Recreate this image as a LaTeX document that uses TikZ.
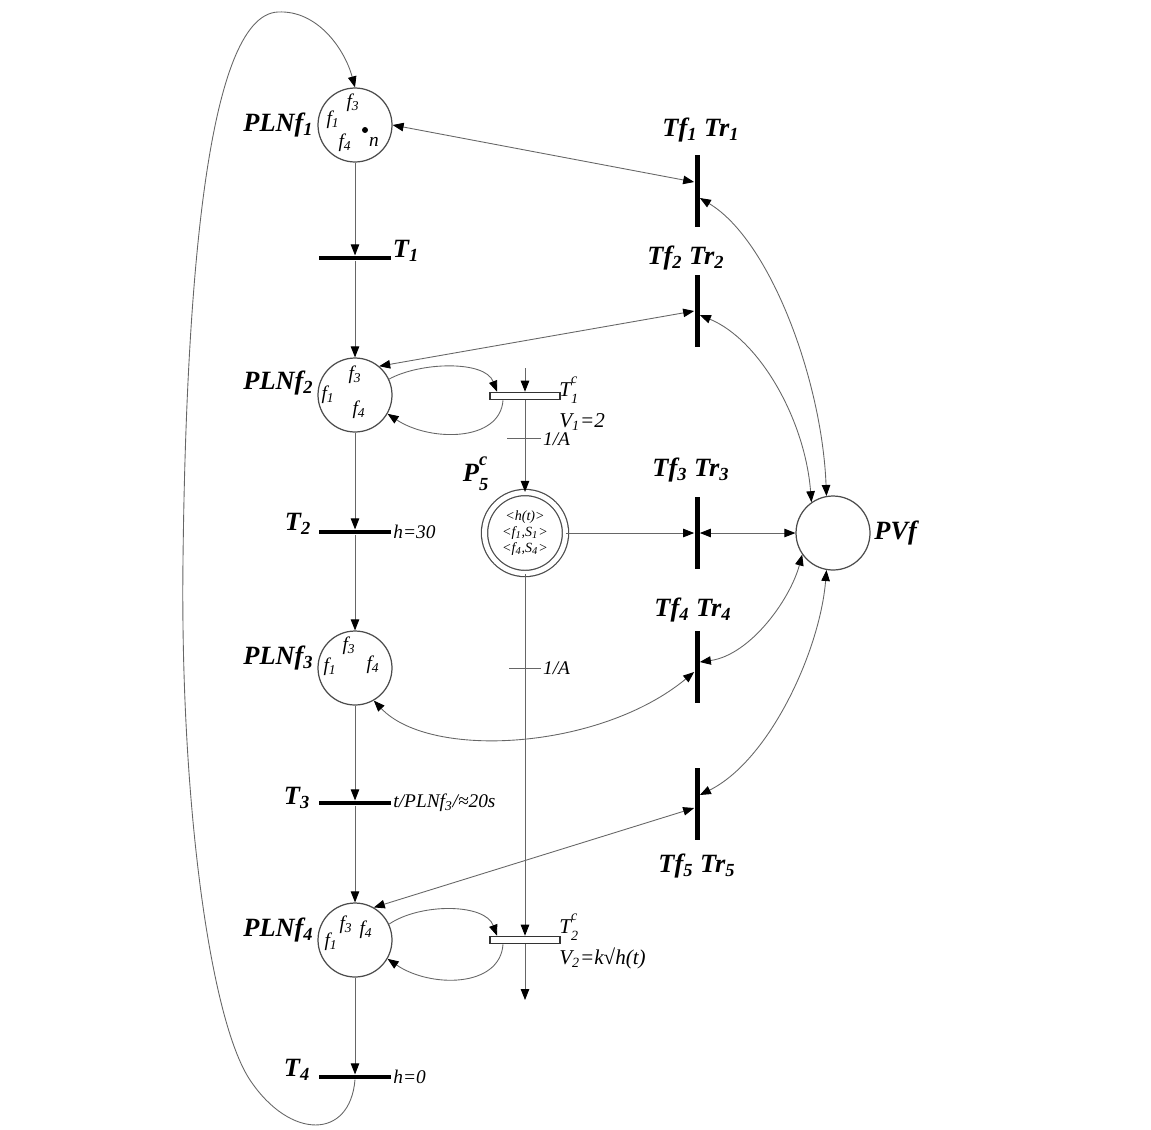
\documentclass[tikz,border=0pt]{standalone}
\usepackage{fontspec}
\setmainfont{Liberation Serif}
\usetikzlibrary{arrows.meta}

\newcommand{\lsub}[1]{\textsubscript{#1}}
\newcommand{\lsupsub}[2]{\rlap{\raisebox{0.25em}{\textsuperscript{#1}}}\raisebox{-0.2em}{\textsubscript{#2}}}

\begin{document}
\begin{tikzpicture}[x=0.02cm, y=0.02cm,
  >={Triangle[length=0.22cm, width=0.17cm, color=black]},
  place/.style={draw=black!70, line width=0.7pt, circle, minimum size=1.48cm, inner sep=0pt},
  hbar/.style={fill=black, inner sep=0pt, minimum width=1.44cm, minimum height=0.09cm},
  vbar/.style={fill=black, inner sep=0pt, minimum width=0.1cm, minimum height=1.44cm},
  cbar/.style={draw=black!80, fill=white, line width=0.6pt, inner sep=0pt, minimum width=1.4cm, minimum height=0.15cm},
  flow/.style={draw=black!60, line width=0.5pt},
  big/.style={font=\fontsize{15}{18}\selectfont\bfseries\itshape, inner sep=2pt},
  mid/.style={font=\fontsize{12}{14}\selectfont\itshape, inner sep=0pt},
  small/.style={font=\fontsize{11}{13}\selectfont\itshape, inner sep=1pt},
  inner/.style={font=\fontsize{11}{12}\selectfont\itshape, inner sep=0pt},
  tiny/.style={font=\fontsize{8}{9}\selectfont\itshape, inner sep=0pt, align=center}]
\useasboundingbox (0,0) rectangle (1151,-1129);

% places of the left column
\node[place] (p1) at (355,-125) {};
\node[place] (p2) at (355,-395) {};
\node[place] (p3) at (355,-668) {};
\node[place] (p4) at (355,-940) {};
\node[big, anchor=east] (lp1) at (p1.west) {PLNf\lsub{1}};
\node[big, anchor=east] (lp2) at ([yshift=0.24cm]p2.west) {PLNf\lsub{2}};
\node[big, anchor=east] (lp3) at ([yshift=0.2cm]p3.west) {PLNf\lsub{3}};
\node[big, anchor=east] (lp4) at ([yshift=0.2cm]p4.west) {PLNf\lsub{4}};

% tokens
\node[inner] (a1) at (353,-103) {f\lsub{3}};
\node[inner] (a2) at (333,-120) {f\lsub{1}};
\node[inner] (a3) at (345,-143) {f\lsub{4}};
\node[circle, fill=black, inner sep=1.2pt] (a4) at (365,-130) {};
\node[inner] (a5) at (374,-142) {n};
\node[inner] (b1) at (355,-375) {f\lsub{3}};
\node[inner] (b2) at (328,-395) {f\lsub{1}};
\node[inner] (b3) at (359,-410) {f\lsub{4}};
\node[inner] (c1) at (349,-646) {f\lsub{3}};
\node[inner] (c2) at (330,-667) {f\lsub{1}};
\node[inner] (c3) at (373,-665) {f\lsub{4}};
\node[inner] (d1) at (346,-925) {f\lsub{3}};
\node[inner] (d2) at (331,-942) {f\lsub{1}};
\node[inner] (d3) at (366,-930) {f\lsub{4}};

% transitions of the left column
\node[hbar] (t1) at (355,-258) {};
\node[hbar] (t2) at (355,-532) {};
\node[hbar] (t3) at (355,-803) {};
\node[hbar] (t4) at (355,-1077) {};
\node[big] (lt1) at (406,-251) {T\lsub{1}};
\node[big] (lt2) at (298,-524) {T\lsub{2}};
\node[big] (lt3) at (297,-798) {T\lsub{3}};
\node[big] (lt4) at (297,-1070) {T\lsub{4}};
\node[small, anchor=west] (g2) at (t2.east) {h=30};
\node[small, anchor=west] (g3) at (t3.east) {t/PLNf\lsub{3}/≈20s};
\node[small, anchor=west] (g4) at (t4.east) {h=0};

\draw[flow, ->] (p1) -- (t1);
\draw[flow, ->] (t1) -- (p2);
\draw[flow, ->] (p2) -- (t2);
\draw[flow, ->] (t2) -- (p3);
\draw[flow, ->] (p3) -- (t3);
\draw[flow, ->] (t3) -- (p4);
\draw[flow, ->] (p4) -- (t4);
\draw[flow, ->] (t4.south) .. controls (350,-1140) and (290,-1140) .. (250,-1080)
  .. controls (210,-1020) and (180,-800) .. (183,-560)
  .. controls (186,-300) and (205,-15) .. (278,-12)
  .. controls (318,-10) and (345,-50) .. (p1.north);

% continuous part
\coordinate (in1) at (525,-368);
\coordinate (out1) at (525,-1000);
\node[cbar] (tc1) at (525,-396) {};
\node[cbar] (tc2) at (525,-940) {};
\node[place, double, double distance=0.1cm, minimum size=1.62cm] (p5) at (525,-533) {};
\node[tiny] (k5) at (p5) {<h(t)>\\<f\lsub{1},S\lsub{1}>\\<f\lsub{4},S\lsub{4}>};
\node[big] (lp5) at (476,-474) {P\lsupsub{c}{5}};
\node[mid, anchor=west] (lc1) at (559,-390) {T\lsupsub{c}{1}};
\node[mid, anchor=west] (vc1) at (559,-422) {V\lsub{1}=2};
\node[mid, anchor=west] (lc2) at (559,-927) {T\lsupsub{c}{2}};
\node[mid, anchor=west] (vc2) at (559,-958) {V\lsub{2}=k√h(t)};

\draw[flow, ->] (in1) -- (tc1);
\draw[flow, ->] (tc1) -- coordinate[pos=0.42] (w1) (p5);
\draw[flow, ->] (p5) -- coordinate[pos=0.26] (w2) (tc2);
\draw[flow, ->] (tc2) -- (out1);
\draw[flow] ([xshift=-0.36cm]w1) -- ([xshift=0.32cm]w1) node[small, right] (m1) {1/A};
\draw[flow] ([xshift=-0.32cm]w2) -- ([xshift=0.32cm]w2) node[small, right] (m2) {1/A};

\draw[flow, ->] (p2.25) .. controls (420,-362) and (485,-360) .. ([xshift=-0.56cm]tc1.north);
\draw[flow, ->] ([xshift=-0.44cm]tc1.south) .. controls (500,-442) and (430,-442) .. (p2.-30);
\draw[flow, ->] (p4.25) .. controls (420,-903) and (485,-903) .. ([xshift=-0.56cm]tc2.north);
\draw[flow, ->] ([xshift=-0.44cm]tc2.south) .. controls (500,-988) and (430,-988) .. (p4.-30);

% right column
\node[vbar] (f1) at (697,-191) {};
\node[vbar] (f2) at (697,-311) {};
\node[vbar] (f3) at (697,-533) {};
\node[vbar] (f4) at (697,-667) {};
\node[vbar] (f5) at (697,-804) {};
\node[place, minimum size=1.48cm] (pv) at (833,-533) {};
\node[big, anchor=west] (lpv) at (pv.east) {PVf};
\node[big] (lf1) at (701,-130) {Tf\lsub{1} Tr\lsub{1}};
\node[big] (lf2) at (686,-258) {Tf\lsub{2} Tr\lsub{2}};
\node[big] (lf3) at (691,-470) {Tf\lsub{3} Tr\lsub{3}};
\node[big] (lf4) at (693,-610) {Tf\lsub{4} Tr\lsub{4}};
\node[big] (lf5) at (697,-866) {Tf\lsub{5} Tr\lsub{5}};

\draw[flow, <->] (p1.east) -- ([yshift=0.18cm]f1.west);
\draw[flow, <->] (p2.50) -- (f2.west);
\draw[flow, ->] (p5) -- (f3);
\draw[flow, <->] (f3) -- (pv);
\draw[flow, <->] (p3.-60) .. controls (430,-760) and (600,-750) .. ([yshift=-0.1cm]f4.west);
\draw[flow, <->] (p4.60) -- ([yshift=-0.08cm]f5.west);

\draw[flow, <->] ([yshift=-0.14cm]f1.east) .. controls (770,-240) and (822,-380) .. (pv.100);
\draw[flow, <->] ([yshift=-0.08cm]f2.east) .. controls (760,-340) and (805,-420) .. (pv.125);
\draw[flow, <->] ([yshift=0.1cm]f4.east) .. controls (750,-655) and (790,-600) .. (pv.215);
\draw[flow, <->] ([yshift=0.18cm]f5.east) .. controls (770,-760) and (820,-650) .. (pv.260);
\end{tikzpicture}
\end{document}
